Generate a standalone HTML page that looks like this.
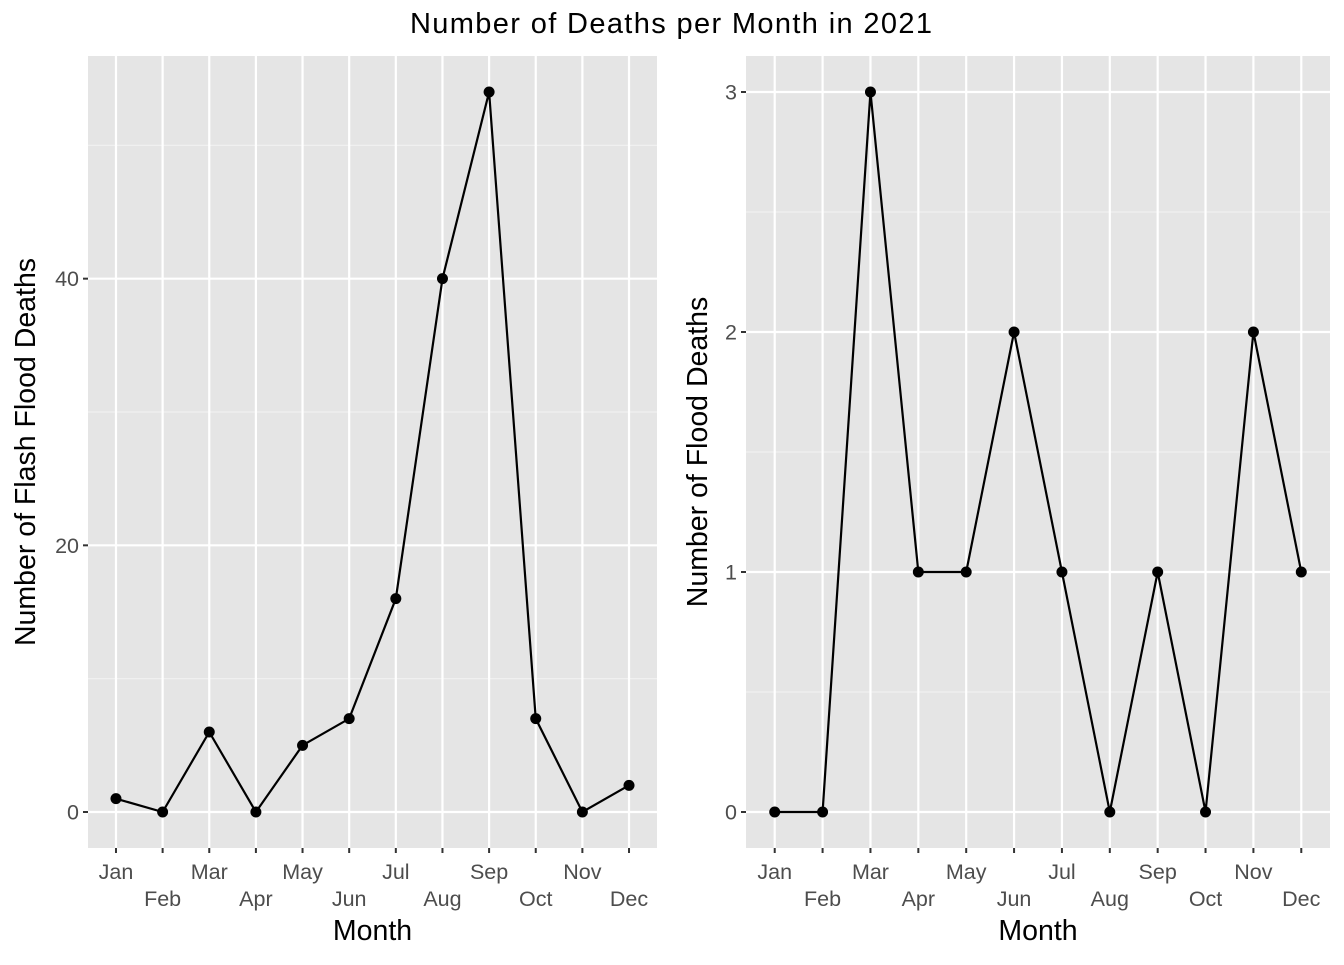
<!DOCTYPE html>
<html><head><meta charset="utf-8"><style>
body{margin:0;background:#fff}
svg text{font-family:"Liberation Sans",Arial,sans-serif}
</style></head><body>
<svg id="c" width="1344" height="960" xmlns="http://www.w3.org/2000/svg">
<text x="671" y="33" text-anchor="middle" font-size="29" textLength="522" lengthAdjust="spacing" fill="#000">Number of Deaths per Month in 2021</text>
</svg>
<script>
const months=["Jan","Feb","Mar","Apr","May","Jun","Jul","Aug","Sep","Oct","Nov","Dec"];
const flashDeaths=[1,0,6,0,5,7,16,40,54,7,0,2];
const floodDeaths=[0,0,3,1,1,2,1,0,1,0,2,1];
const leftTicks=[0,20,40];
const rightTicks=[0,1,2,3];
const NS="http://www.w3.org/2000/svg";
const svg=document.getElementById('c');
function mk(t,a,p){const e=document.createElementNS(NS,t);for(const k in a)e.setAttribute(k,a[k]);(p||svg).appendChild(e);return e;}
function panel(name,x0,x1,vals,ticks,ytitle,ytx){
  const y0=848,y1=56;
  const max=Math.max(...vals),min=Math.min(...vals),r=max-min;
  const lo=min-r*0.05,hi=max+r*0.05;
  const Y=v=>y0-(v-lo)/(hi-lo)*(y0-y1);
  const step=(x1-x0)/12.2;
  const Xi=i=>x0+(i+0.6)*step;
  const g=mk('g',{});
  
  
  const bg=mk('rect',{x:x0,y:y1,width:x1-x0,height:y0-y1,fill:'#e5e5e5'},g);
  
  
  const dt=ticks[1]-ticks[0];
  for(let i=0;i<ticks.length+1;i++){const vv=ticks[0]+dt*i+dt/2; if(vv>lo&&vv<hi) mk('line',{x1:x0,x2:x1,y1:Y(vv),y2:Y(vv),stroke:'#f2f2f2','stroke-width':1.1},g);}
  ticks.forEach(t=>{
    mk('line',{x1:x0,x2:x1,y1:Y(t),y2:Y(t),stroke:'#fff','stroke-width':2.2},g);
    mk('line',{x1:x0-5,x2:x0,y1:Y(t),y2:Y(t),stroke:'#333','stroke-width':2},g);
    const tx=mk('text',{x:x0-9,y:Y(t)+7.5,'text-anchor':'end','font-size':21.5,fill:'#4d4d4d'},g);
    tx.textContent=t;
    
    
  });
  months.forEach((m,i)=>{
    mk('line',{x1:Xi(i),x2:Xi(i),y1:y1,y2:y0,stroke:'#fff','stroke-width':2.2},g);
    mk('line',{x1:Xi(i),x2:Xi(i),y1:y0,y2:y0+5,stroke:'#333','stroke-width':2},g);
    const tx=mk('text',{x:Xi(i),y:i%2?906:879,'text-anchor':'middle','font-size':21.5,fill:'#4d4d4d'},g);
    tx.textContent=m;
    
    
  });
  const pl=mk('polyline',{points:vals.map((v,i)=>Xi(i)+','+Y(v)).join(' '),fill:'none',stroke:'#000','stroke-width':2.2},g);
  
  
  vals.forEach((v,i)=>{const c=mk('circle',{cx:Xi(i),cy:Y(v),r:5.5,fill:'#000'},g);
    
    });
  const xt=mk('text',{x:(x0+x1)/2,y:940,'text-anchor':'middle','font-size':28.5,fill:'#000'},g);
  xt.textContent='Month';
  
  
  const yt=mk('text',{x:0,y:0,'text-anchor':'middle','font-size':28.5,fill:'#000',transform:`translate(${ytx},${(y0+y1)/2}) rotate(-90)`},g);
  yt.textContent=ytitle;
  
  
}
panel('flash',88,657,flashDeaths,leftTicks,'Number of Flash Flood Deaths',35);
panel('flood',746,1330,floodDeaths,rightTicks,'Number of Flood Deaths',707);
</script>
</body></html>
